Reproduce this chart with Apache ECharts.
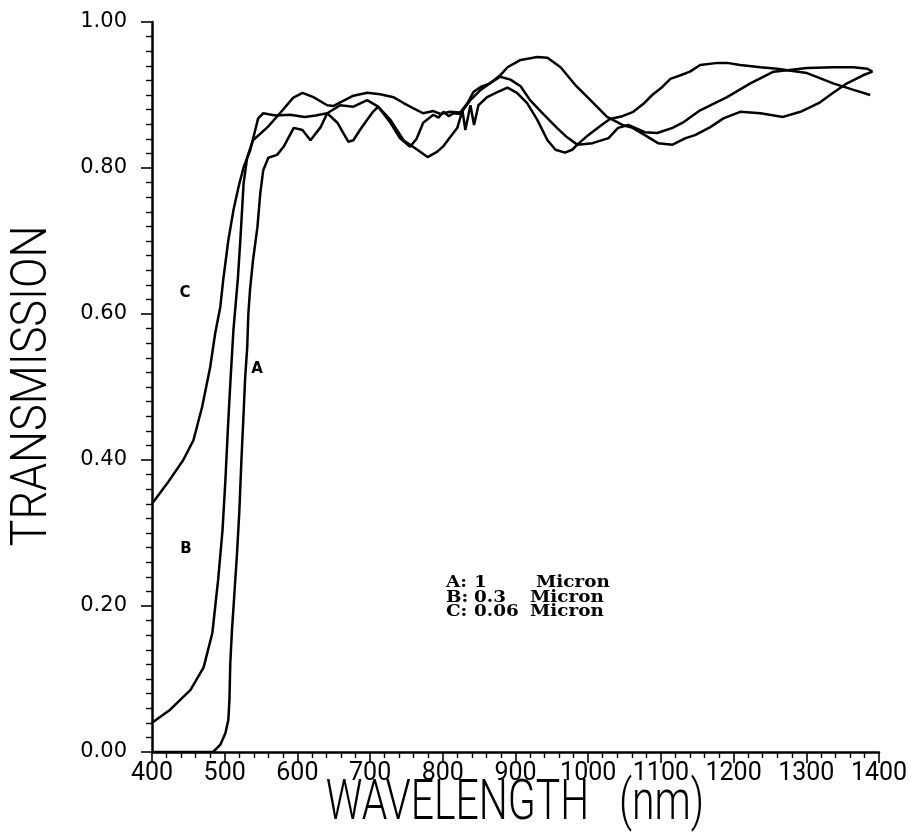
<!DOCTYPE html>
<html>
<head>
<meta charset="utf-8">
<script src="https://cdn.jsdelivr.net/npm/echarts@6/dist/echarts.min.js"></script>
<style>
  html, body { margin: 0; padding: 0; background: #fff; }
  #chart { width: 914px; height: 839px; }
</style>
</head>
<body>
<div id="chart"></div>
<script>
// [wavelength nm, transmission]
const curveA = [
  [400, 0], [484, 0], [494, 0.01], [501, 0.026], [505, 0.044], [506.5, 0.071], [507.7, 0.122],
  [510, 0.167], [513, 0.212], [517, 0.273], [520, 0.327], [523, 0.40], [526, 0.464], [528, 0.51],
  [531, 0.555], [532.5, 0.60], [535, 0.635], [539, 0.674], [545, 0.719], [549, 0.766], [553, 0.797],
  [560, 0.814], [572, 0.818], [581, 0.829], [595, 0.855], [607, 0.852], [618, 0.838], [632, 0.856],
  [641, 0.875], [659, 0.886], [677, 0.884], [696, 0.893], [711, 0.884], [728, 0.866], [746, 0.838],
  [765, 0.825], [779, 0.815], [792, 0.822], [801, 0.830], [810, 0.842], [820, 0.855], [827, 0.879],
  [831, 0.852], [838, 0.886], [843, 0.859], [849, 0.886], [861, 0.897], [875, 0.904], [889, 0.910],
  [902, 0.903], [916, 0.889], [930, 0.866], [944, 0.838], [955, 0.825], [968, 0.821], [978, 0.825],
  [985, 0.832], [1006, 0.834], [1028, 0.841], [1041, 0.855], [1055, 0.859], [1078, 0.849],
  [1095, 0.848], [1116, 0.855], [1130, 0.862], [1154, 0.879], [1191, 0.897], [1223, 0.916],
  [1255, 0.932], [1274, 0.934], [1301, 0.937], [1337, 0.938], [1365, 0.938], [1384, 0.936],
  [1391, 0.932]
];

const curveB = [
  [400, 0.04], [425, 0.058], [453, 0.085], [471, 0.116], [483, 0.163], [491, 0.236], [497, 0.304],
  [501, 0.373], [505, 0.455], [508, 0.51], [512, 0.578], [518, 0.647], [521.5, 0.701], [526, 0.779],
  [531, 0.815], [539, 0.838], [559, 0.856], [576, 0.875], [594, 0.896], [607, 0.903], [622, 0.897],
  [641, 0.886], [650, 0.885], [659, 0.89], [677, 0.899], [696, 0.903], [714, 0.901], [732, 0.897],
  [746, 0.889], [759, 0.882], [773, 0.875], [787, 0.878], [797, 0.874], [810, 0.877], [824, 0.876],
  [834, 0.889], [842, 0.904], [852, 0.911], [865, 0.916], [879, 0.927], [889, 0.938], [907, 0.948],
  [930, 0.952], [944, 0.951], [962, 0.938], [982, 0.914], [1000, 0.896], [1014, 0.882],
  [1026, 0.870], [1047, 0.859], [1061, 0.855], [1078, 0.845], [1096, 0.834], [1116, 0.832],
  [1134, 0.841], [1147, 0.845], [1168, 0.856], [1186, 0.868], [1209, 0.877], [1237, 0.875],
  [1268, 0.870], [1292, 0.877], [1319, 0.890], [1337, 0.903], [1356, 0.916], [1378, 0.927],
  [1391, 0.932]
];

const curveC = [
  [400, 0.34], [421, 0.368], [443, 0.40], [457, 0.427], [469, 0.473], [480, 0.527], [487, 0.574],
  [494, 0.61], [498, 0.647], [505, 0.701], [512, 0.742], [519, 0.774], [526, 0.801], [535, 0.824],
  [542, 0.852], [546, 0.868], [553, 0.875], [570, 0.872], [590, 0.873], [610, 0.870], [625, 0.872],
  [641, 0.875], [655, 0.862], [663, 0.848], [670, 0.836], [677, 0.838], [686, 0.852], [696, 0.866],
  [704, 0.877], [711, 0.884], [728, 0.862], [741, 0.841], [755, 0.829], [764, 0.840], [773, 0.862],
  [787, 0.873], [794, 0.869], [801, 0.877], [808, 0.871], [815, 0.875], [824, 0.874], [838, 0.893],
  [852, 0.907], [865, 0.916], [879, 0.925], [893, 0.921], [907, 0.912], [920, 0.893], [938, 0.874],
  [957, 0.855], [971, 0.842], [985, 0.832], [1000, 0.845], [1017, 0.858], [1030, 0.867],
  [1047, 0.871], [1062, 0.877], [1076, 0.888], [1088, 0.900], [1102, 0.911], [1113, 0.922],
  [1127, 0.927], [1140, 0.932], [1154, 0.941], [1178, 0.944], [1191, 0.944], [1209, 0.941],
  [1237, 0.938], [1260, 0.936], [1274, 0.934], [1301, 0.930], [1337, 0.916], [1365, 0.907],
  [1388, 0.900]
];

const xRange = [400, 1400, 100];
const yRange = [0, 1, 0.2];
const legendRows = [
  ['A:', '1', 'Micron'],
  ['B:', '0.3', 'Micron'],
  ['C:', '0.06', 'Micron']
];

const chart = echarts.init(document.getElementById('chart'));

function axisBase() {
  return {
    type: 'value',
    axisLine: {show: true, lineStyle: {color: '#000', width: 2.5}},
    axisTick: {show: true, length: 11, lineStyle: {color: '#000', width: 1.6}},
    minorTick: {show: true, length: 6, lineStyle: {color: '#000', width: 1.4}},
    splitLine: {show: false},
    minorSplitLine: {show: false}
  };
}

const xAxis = Object.assign(axisBase(), {
  min: xRange[0],
  max: xRange[1],
  interval: xRange[2],
  axisLabel: {color: '#000', fontSize: 25, fontFamily: 'Roboto', margin: 9, formatter: v => String(v)}
});
xAxis.minorTick.splitNumber = 5;

const yAxis = Object.assign(axisBase(), {
  min: yRange[0],
  max: yRange[1],
  interval: yRange[2],
  axisLabel: {
    color: '#000', fontSize: 21, fontFamily: 'DejaVu Sans', margin: 25,
    formatter: v => v.toFixed(2)
  }
});
yAxis.minorTick.splitNumber = 10;

function lineSeries(name, data) {
  return {
    name: name,
    type: 'line',
    data: data,
    showSymbol: false,
    silent: true,
    lineStyle: {color: '#000', width: 2.5},
    animation: false
  };
}

const legendFont = {fontSize: 17, fontWeight: 'bold', fontFamily: 'DejaVu Serif', fill: '#000'};
const legendGraphic = [];
const micronX = [536, 530, 530];
legendRows.forEach((row, i) => {
  const y = 583 + i * 14.5;
  [446, 474, micronX[i]].forEach((x, j) => {
    legendGraphic.push({
      type: 'text', x: x, y: y, scaleX: 1.08,
      style: Object.assign({text: row[j], verticalAlign: 'middle'}, legendFont)
    });
  });
});

const curveTags = [['C', 185, 293], ['B', 186, 549], ['A', 257, 369]].map(t => ({
  type: 'text', x: t[1], y: t[2],
  style: {text: t[0], fontSize: 15, fontWeight: 'bold', fontFamily: 'DejaVu Sans',
    fill: '#000', align: 'center', verticalAlign: 'middle'}
}));

const option = {
  backgroundColor: '#fff',
  animation: false,
  grid: {left: 152, right: 35, top: 22, bottom: 87, containLabel: false, outerBoundsMode: 'none'},
  xAxis: xAxis,
  yAxis: yAxis,
  series: [
    lineSeries('A', curveA),
    lineSeries('B', curveB),
    lineSeries('C', curveC)
  ],
  graphic: [
    {
      type: 'text', x: 33, y: 386, rotation: Math.PI / 2, scaleX: 0.9,
      style: {text: 'TRANSMISSION', fontSize: 50, fontWeight: 300, fontFamily: 'Roboto',
        fill: '#000', align: 'center', verticalAlign: 'middle'}
    },
    {
      type: 'text', x: 515, y: 805, scaleX: 0.73,
      style: {text: 'WAVELENGTH   (nm)', fontSize: 56, fontWeight: 300, fontFamily: 'Roboto',
        fill: '#000', align: 'center', verticalAlign: 'middle'}
    }
  ].concat(curveTags, legendGraphic)
};

chart.setOption(option);
</script>
</body>
</html>
